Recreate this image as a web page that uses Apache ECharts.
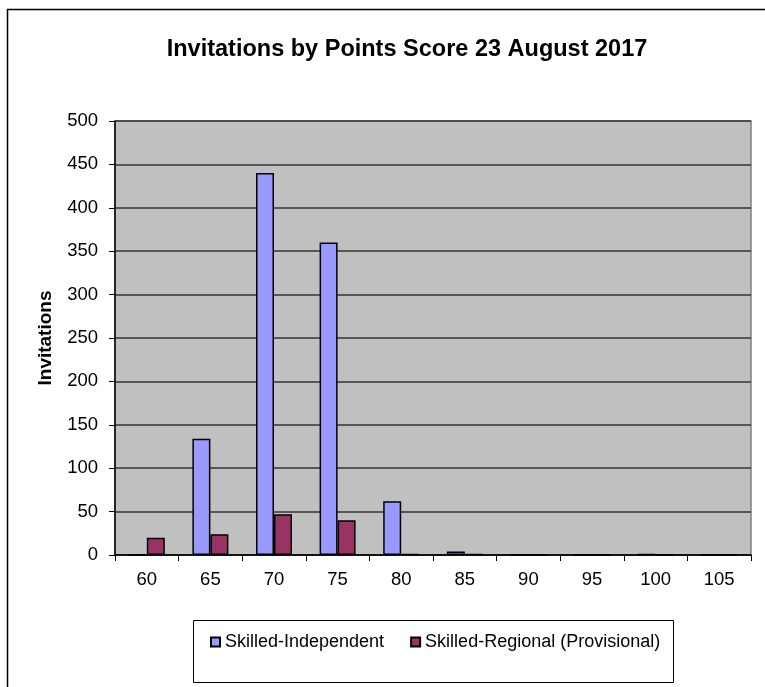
<!DOCTYPE html>
<html>
<head>
<meta charset="utf-8">
<script src="https://cdn.jsdelivr.net/npm/echarts@6/dist/echarts.min.js"></script>
<style>
html,body{margin:0;padding:0;background:#fff;}
#chart{width:765px;height:687px;}
</style>
</head>
<body>
<div id="chart"></div>
<script>
const categories = ['60','65','70','75','80','85','90','95','100','105'];
const skilledIndependent = [0, 134, 440, 360, 62, 4, 0, 0, 1, 0];
const skilledRegional = [20, 24, 47, 40, 1, 1, 0, 0, 0, 0];
const yTicks = {min: 0, max: 500, interval: 50};

const FONT = '"Liberation Sans", Arial, sans-serif';
const chart = echarts.init(document.getElementById('chart'), null, {renderer: 'canvas'});
chart.setOption({
  backgroundColor: '#ffffff',
  animation: false,
  title: {
    text: 'Invitations by Points Score 23 August 2017',
    left: 402, top: 33, textAlign: 'center',
    textStyle: {fontFamily: FONT, fontWeight: 'bold', fontSize: 23.5, color: '#000'}
  },
  graphic: [
    {type: 'rect', shape: {x: 7.5, y: 9.5, width: 800, height: 720}, silent: true,
     style: {fill: 'none', stroke: '#000', lineWidth: 1.5}},
    {type: 'rect', shape: {x: 193.5, y: 620.5, width: 480, height: 62}, silent: true,
     style: {fill: '#fff', stroke: '#000', lineWidth: 1}}
  ],
  legend: {
    left: 210, top: 633, itemWidth: 9, itemHeight: 9, itemGap: 26,
    icon: 'rect', padding: 0,
    textStyle: {fontFamily: FONT, fontSize: 18, color: '#000'},
    data: ['Skilled-Independent', 'Skilled-Regional (Provisional)']
  },
  grid: {
    left: 115, top: 121, width: 636, height: 434,
    show: true, backgroundColor: '#C0C0C0', borderColor: '#808080', borderWidth: 1.5
  },
  xAxis: {
    type: 'category', data: categories, boundaryGap: true,
    axisLine: {show: true, lineStyle: {color: '#000', width: 1.5}},
    axisTick: {show: true, length: 6, lineStyle: {color: '#000'}},
    axisLabel: {fontFamily: FONT, fontSize: 18.5, color: '#000', margin: 15},
    splitLine: {show: false}
  },
  yAxis: {
    type: 'value', min: yTicks.min, max: yTicks.max, interval: yTicks.interval,
    name: 'Invitations', nameLocation: 'middle', nameGap: 60, nameRotate: 90,
    nameTextStyle: {fontFamily: FONT, fontWeight: 'bold', fontSize: 19, color: '#000'},
    axisLine: {show: true, lineStyle: {color: '#000', width: 1.5}},
    axisTick: {show: true, length: 6, lineStyle: {color: '#000'}},
    axisLabel: {fontFamily: FONT, fontSize: 18.5, color: '#000', margin: 17},
    splitLine: {show: true, lineStyle: {color: '#333', width: 1.5}}
  },
  series: [
    {name: 'Skilled-Independent', type: 'bar', data: skilledIndependent,
     barWidth: 18, barGap: '0%',
     itemStyle: {color: '#9999FF', borderColor: '#000', borderWidth: 1.5}},
    {name: 'Skilled-Regional (Provisional)', type: 'bar', data: skilledRegional,
     barWidth: 18, barGap: '0%',
     itemStyle: {color: '#993366', borderColor: '#000', borderWidth: 1.5}}
  ]
});
</script>
</body>
</html>
